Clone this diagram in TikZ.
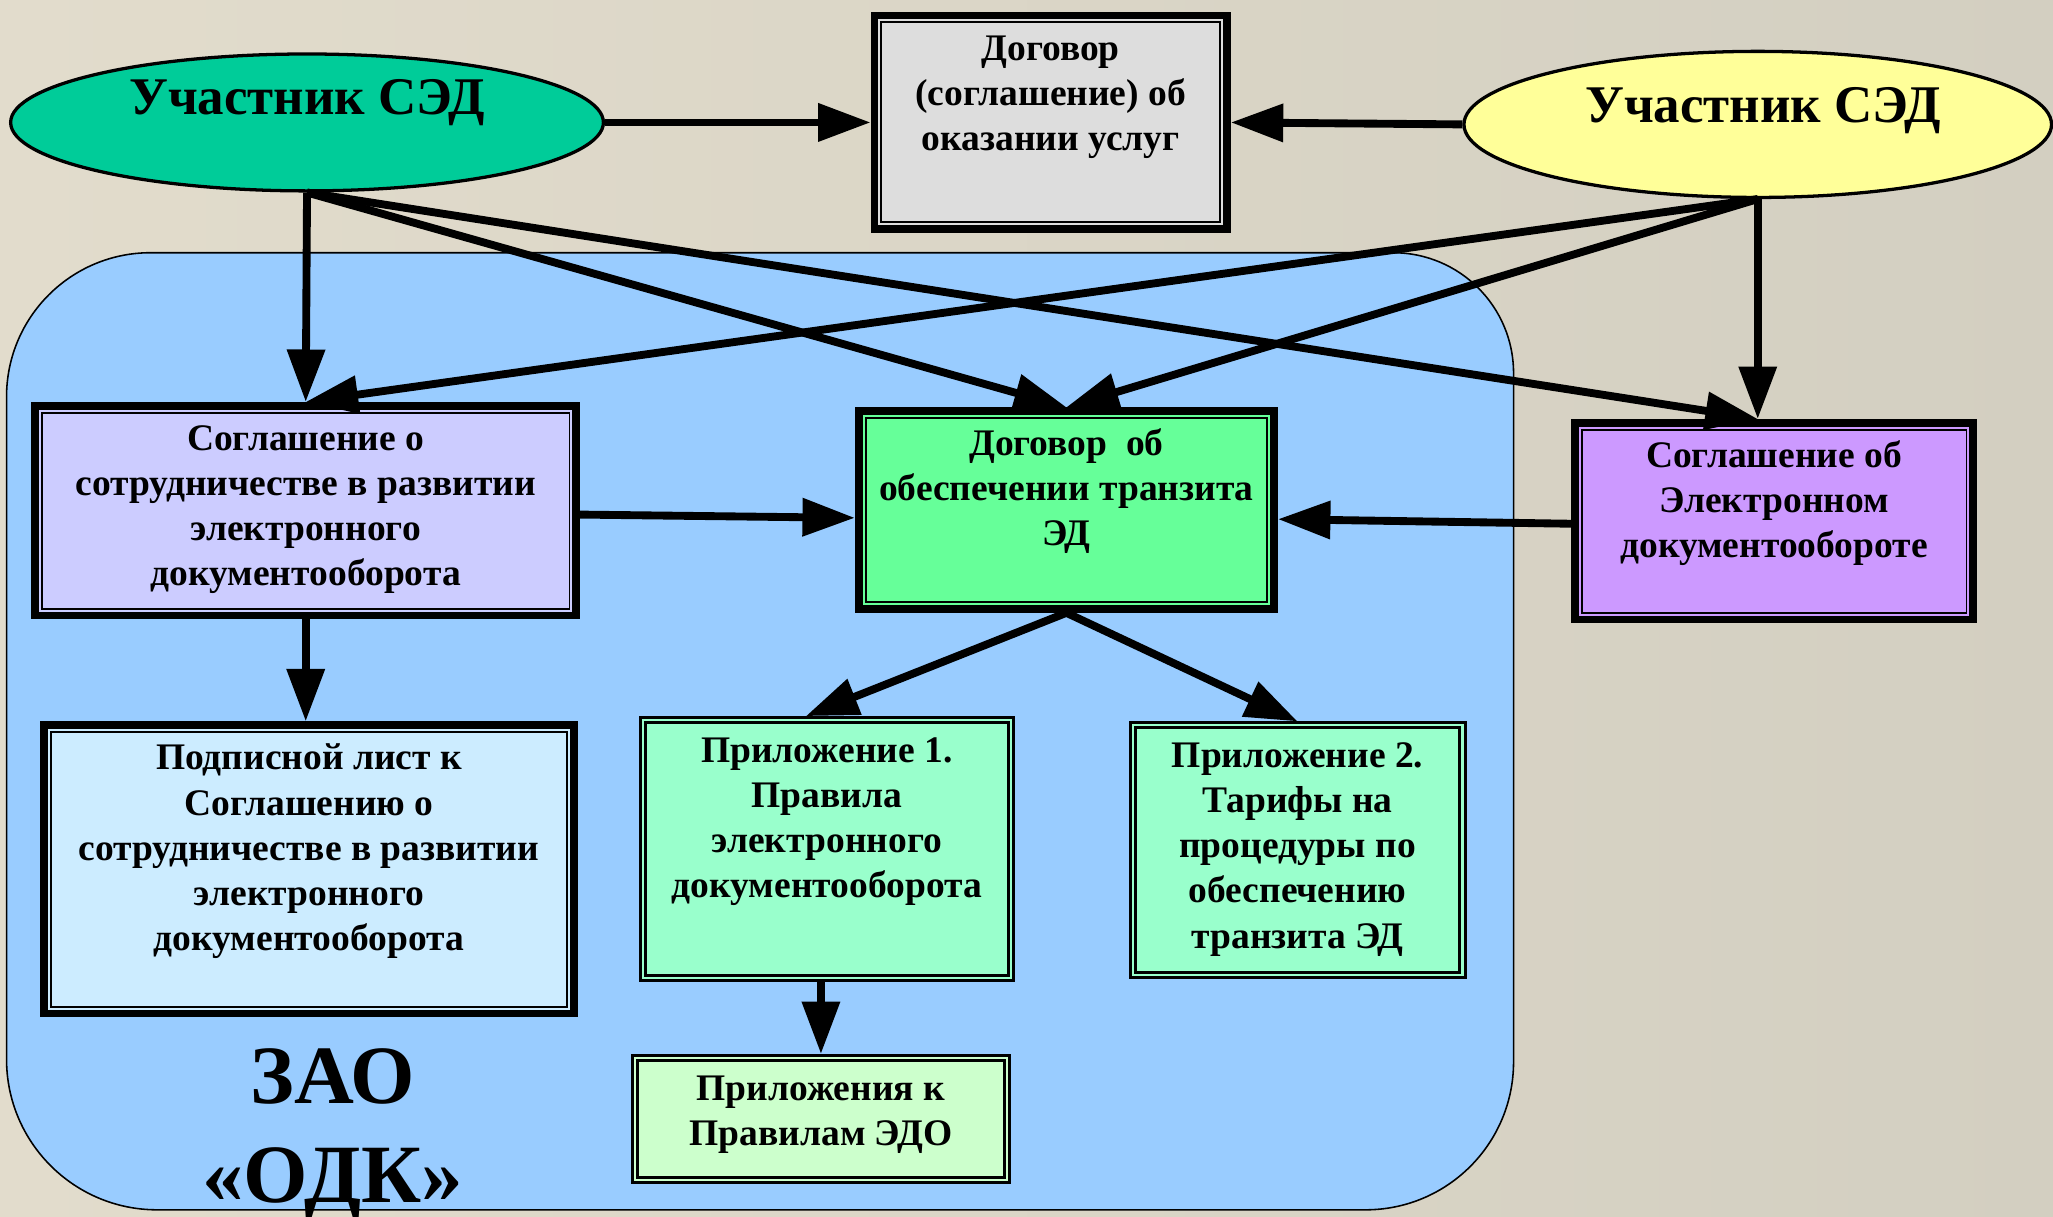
\documentclass[tikz,border=0pt]{standalone}
\usepackage{fontspec}
\setmainfont{Liberation Serif}
\usetikzlibrary{arrows.meta,shapes.geometric}
\definecolor{bgl}{HTML}{E2DCCC}
\definecolor{bgr}{HTML}{D3CFC1}
\definecolor{zaoc}{HTML}{99CCFF}
\definecolor{lec}{HTML}{00CC99}
\definecolor{rec}{HTML}{FFFF99}
\definecolor{topc}{HTML}{DDDDDD}
\definecolor{lavc}{HTML}{CCCCFF}
\definecolor{grnc}{HTML}{66FF99}
\definecolor{purc}{HTML}{CC99FF}
\definecolor{podc}{HTML}{CCECFF}
\definecolor{prc}{HTML}{99FFCC}
\definecolor{pkc}{HTML}{CCFFCC}
\newcommand\bt[3]{\parbox[c][#2][t]{#1}{\centering\vspace*{0.1cm}\strut #3}}
\begin{document}
\begin{tikzpicture}[x=0.01cm,y=0.01cm,
  boxfont/.style={font=\bfseries\fontsize{8.15}{9.8}\selectfont},
  thickbox/.style={draw, rectangle, line width=0.059cm, inner sep=0pt, fill=#1, boxfont},
  thinbox/.style={draw, rectangle, line width=0.023cm, inner sep=0pt, fill=#1, boxfont},
  oval/.style={ellipse, draw, line width=0.025cm, inner sep=0pt, fill=#1, font=\bfseries\fontsize{11.5}{13}\selectfont},
  arr/.style={line width=0.06cm, -{Triangle[length=0.4cm,width=0.28cm]}},
  region/.style={fill=zaoc, draw=black, line width=0.012cm}
]
\useasboundingbox (0,0) rectangle (1568,-929);
\shade[left color=bgl, right color=bgr] (0,0) rectangle (1568,-929);
\clip (0,0) rectangle (1568,-929);
% ZAO region
\path[region] (115,-193) -- (1064,-193) arc[start angle=90,end angle=0,radius=92]
  -- (1156,-811) arc[start angle=0,end angle=-90,radius=113]
  -- (120,-924) arc[start angle=270,end angle=180,radius=115]
  -- (5,-303) arc[start angle=180,end angle=90,radius=110] -- cycle;
\node[font=\bfseries\fontsize{18}{21.6}\selectfont, align=center, inner sep=0pt, anchor=north] (zao) at (254,-800) {ЗАО\\«ОДК»};
% participants
\node[oval=lec, minimum width=4.525cm, minimum height=1.045cm] (le) at (234.5,-93.5) {\raisebox{0.06cm}[0pt][0pt]{Участник СЭД}};
\node[oval=rec, minimum width=4.485cm, minimum height=1.115cm] (re) at (1342.5,-95) {\hspace*{0.08cm}\raisebox{0.015cm}[0pt][0pt]{Участник СЭД}};
% boxes
\node[thickbox=topc, minimum width=2.691cm, minimum height=1.631cm] (top) at (802.5,-93.5)
  {\bt{2.65cm}{1.631cm}{Договор\\(соглашение) об\\оказании услуг}};
\node[thickbox=lavc, minimum width=4.131cm, minimum height=1.601cm] (lav) at (233.5,-390)
  {\bt{4.09cm}{1.601cm}{Соглашение о\\сотрудничестве в развитии\\электронного\\документооборота}};
\node[thickbox=grnc, minimum width=3.171cm, minimum height=1.511cm] (grn) at (814.5,-389.5)
  {\bt{3.13cm}{1.511cm}{Договор~ об\\обеспечении транзита\\ЭД}};
\node[thickbox=purc, minimum width=3.041cm, minimum height=1.501cm] (pur) at (1355,-398)
  {\bt{3.0cm}{1.501cm}{Соглашение об\\Электронном\\документообороте}};
\node[thickbox=podc, minimum width=4.041cm, minimum height=2.201cm] (pod) at (236,-664)
  {\bt{4.0cm}{2.201cm}{Подписной лист к\\Соглашению о\\сотрудничестве в развитии\\электронного\\документооборота}};
\node[thinbox=prc, minimum width=2.847cm, minimum height=2.007cm] (p1) at (631.5,-648.5)
  {\bt{2.81cm}{2.007cm}{Приложение 1.\\Правила\\электронного\\документооборота}};
\node[thinbox=prc, minimum width=2.557cm, minimum height=1.947cm] (p2) at (991,-649.5)
  {\bt{2.52cm}{1.947cm}{Приложение 2.\\Тарифы на\\процедуры по\\обеспечению\\транзита ЭД}};
\node[thinbox=pkc, minimum width=2.877cm, minimum height=0.967cm] (pk) at (627,-854.5)
  {\bt{2.84cm}{0.967cm}{Приложения к\\Правилам ЭДО}};
% inner frame lines
\foreach \n in {top,lav,grn,pur,pod}
  \draw[line width=0.015cm] ([shift={(0.0815cm,-0.0815cm)}]\n.north west) rectangle ([shift={(-0.0815cm,0.0815cm)}]\n.south east);
\foreach \n in {p1,p2,pk}
  \draw[line width=0.023cm] ([shift={(0.05cm,-0.05cm)}]\n.north west) rectangle ([shift={(-0.05cm,0.05cm)}]\n.south east);
% connectors
\draw[arr] (le.east) -- (top.west);
\draw[arr] (re.west) -- (top.east);
\draw[arr] (le.south) -- (lav.north);
\draw[arr] (le.south) -- (grn.north);
\draw[arr] (le.south) -- (re.south |- pur.north);
\draw[arr] (re.south) -- (lav.north);
\draw[arr] (re.south) -- (grn.north);
\draw[arr] (re.south) -- (re.south |- pur.north);
\draw[arr] ([yshift=-0.03cm]lav.east) -- ([yshift=-0.06cm]grn.west);
\draw[arr] ([yshift=-0.02cm]pur.west) -- ([yshift=-0.07cm]grn.east);
\draw[arr] (lav.south) -- (lav.south |- pod.north);
\draw[arr] (grn.south) -- ([xshift=-0.16cm]p1.north);
\draw[arr] (grn.south) -- (p2.north);
\draw[arr] (pk.north |- p1.south) -- (pk.north);
\end{tikzpicture}
\end{document}
